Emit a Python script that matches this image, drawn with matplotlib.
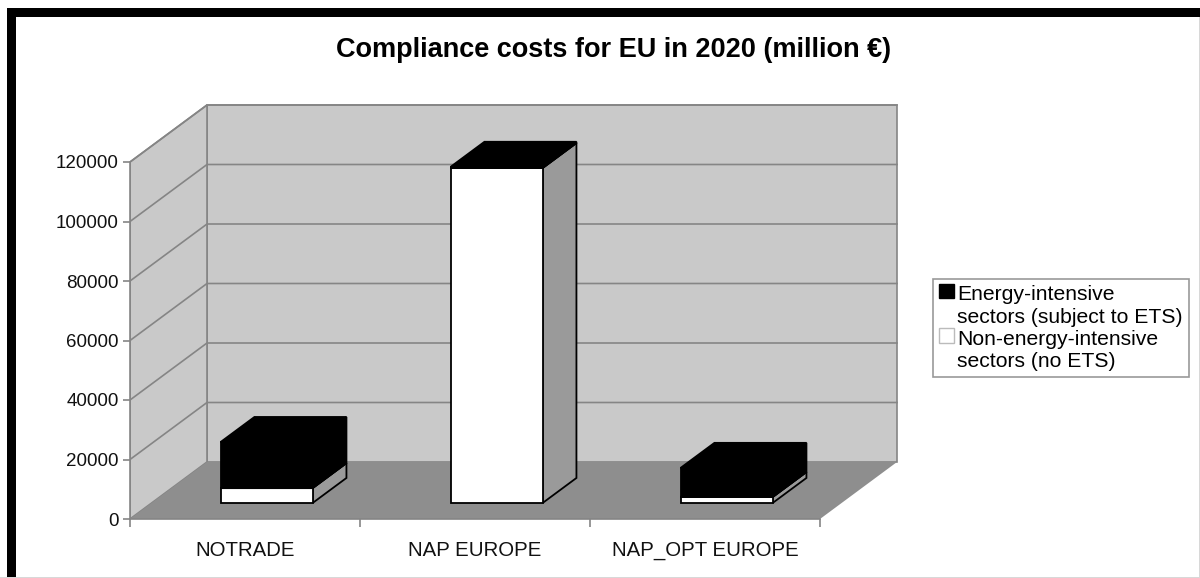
import numpy as np
import matplotlib.pyplot as plt
from matplotlib.patches import Polygon, Rectangle, Patch
from matplotlib.legend_handler import HandlerPatch

plt.rcParams['font.family'] = ['Liberation Sans', 'DejaVu Sans']

# data (million EUR)
scenarios = ['NOTRADE', 'NAP EUROPE', 'NAP_OPT EUROPE']
non_energy = [5000, 112600, 2000]      # non-energy-intensive sectors (no ETS)
energy = [15500, 400, 9800]            # energy-intensive sectors (ETS)
y_ticks = [0, 20000, 40000, 60000, 80000, 100000, 120000]
series_names = ['Energy-intensive\nsectors (subject to ETS)',
                'Non-energy-intensive\nsectors (no ETS)']

# oblique depth offset of the chart box (x in category units, y in value units)
DX = 77 / 230
DY = 57 / 357 * 120000
D0, D1 = 0.28, 0.72     # depth range occupied by the columns
BAR_W = 0.4

wall_c = '#c9c9c9'
floor_c = '#8e8e8e'
line_c = '#858585'


def proj(x, v, d):
    return (x + d * DX, v + d * DY)


def top_square(legend, orig_handle, xdescent, ydescent, width, height, fontsize):
    # legend key aligned with the first line of a two-line label
    return Rectangle((-xdescent, -ydescent + 0.72 * fontsize), width, height)


fig = plt.figure(figsize=(12, 5.78), dpi=100)
ax = fig.add_axes([130 / 1200, 1 - 519 / 578, 770 / 1200, 419 / 578])
ax.set_xlim(0, 770 / 230)
ax.set_ylim(0, 419 / 357 * 120000)
ax.patch.set_visible(False)

n = len(scenarios)
top = y_ticks[-1]

# walls and floor
ax.add_patch(Polygon([proj(0, 0, 1), proj(n, 0, 1), proj(n, top, 1), proj(0, top, 1)],
                     closed=True, facecolor=wall_c, edgecolor=line_c, lw=1.2, zorder=1))
ax.add_patch(Polygon([proj(0, 0, 0), proj(0, top, 0), proj(0, top, 1), proj(0, 0, 1)],
                     closed=True, facecolor=wall_c, edgecolor=line_c, lw=1.2, zorder=1))
ax.add_patch(Polygon([proj(0, 0, 0), proj(n, 0, 0), proj(n, 0, 1), proj(0, 0, 1)],
                     closed=True, facecolor=floor_c, edgecolor='none', zorder=2))

# gridlines on the back and side walls
for v in y_ticks[1:]:
    xs, ys = zip(proj(0, v, 0), proj(0, v, 1), proj(n, v, 1))
    ax.plot(xs, ys, color=line_c, lw=1.2, zorder=1.5)

# stacked 3D columns
for i in range(n):
    c = i + 0.5
    x0, x1 = c - BAR_W / 2, c + BAR_W / 2
    segments = [(0, non_energy[i], 'white', '#9a9a9a'),
                (non_energy[i], non_energy[i] + energy[i], 'black', 'black')]
    for k, (lo, hi, face, side) in enumerate(segments):
        z = 5 + k
        ax.add_patch(Polygon([proj(x1, lo, D0), proj(x1, lo, D1), proj(x1, hi, D1), proj(x1, hi, D0)],
                             closed=True, facecolor=side, edgecolor='black', lw=1.3, zorder=z))
        ax.add_patch(Polygon([proj(x0, lo, D0), proj(x1, lo, D0), proj(x1, hi, D0), proj(x0, hi, D0)],
                             closed=True, facecolor=face, edgecolor='black', lw=1.3, zorder=z))
        ax.add_patch(Polygon([proj(x0, hi, D0), proj(x1, hi, D0), proj(x1, hi, D1), proj(x0, hi, D1)],
                             closed=True, facecolor=face, edgecolor='black', lw=1.3, zorder=z))

# axes: value axis on the front-left edge, category axis on the front floor edge
for s in ['top', 'right']:
    ax.spines[s].set_visible(False)
ax.spines['left'].set_bounds(0, top)
ax.spines['bottom'].set_bounds(0, n)
for s in ['left', 'bottom']:
    ax.spines[s].set_color(line_c)
    ax.spines[s].set_linewidth(1.2)
    ax.spines[s].set_zorder(3)

ax.set_yticks(y_ticks)
ax.set_yticklabels([str(v) for v in y_ticks])
ax.tick_params(axis='y', length=5, width=1.2, color=line_c, labelsize=13.5, pad=3, labelcolor='#111111')
ax.set_xticks(np.arange(n + 1))
ax.set_xticklabels([''] * (n + 1))
ax.set_xticks(np.arange(n) + 0.5, minor=True)
ax.set_xticklabels(scenarios, minor=True)
ax.tick_params(axis='x', which='major', length=6, width=1.2, color=line_c)
ax.tick_params(axis='x', which='minor', length=0, labelsize=14.7, pad=16, labelcolor='#111111')

fig.text(0.511, 1 - 50 / 578, 'Compliance costs for EU in 2020 (million \u20ac)',
         ha='center', va='center', fontsize=19.5, fontweight='bold')

handles = [Patch(facecolor='black', edgecolor='black'),
           Patch(facecolor='white', edgecolor='#bbbbbb')]
hmap = {h: HandlerPatch(patch_func=top_square) for h in handles}
leg = fig.legend(handles, series_names, loc='upper left', handler_map=hmap,
                 bbox_to_anchor=(933 / 1200, 1 - 279 / 578), fontsize=15.2,
                 handlelength=0.7, handleheight=0.7, handletextpad=0.15,
                 labelspacing=0.15, borderpad=0.3, borderaxespad=0,
                 fancybox=False, framealpha=1)
leg.get_frame().set_edgecolor('#999999')
leg.get_frame().set_linewidth(1.2)
for t in leg.get_texts():
    t.set_linespacing(1.22)

# outer frame
fig.add_artist(Rectangle((7 / 1200, 0), 9 / 1200, 1 - 8 / 578, transform=fig.transFigure,
                         facecolor='black', edgecolor='none'))
fig.add_artist(Rectangle((7 / 1200, 1 - 17 / 578), 1 - 7 / 1200, 9 / 578, transform=fig.transFigure,
                         facecolor='black', edgecolor='none'))
fig.add_artist(Rectangle((0, 0), 1198.5 / 1200, 1.5 / 578, transform=fig.transFigure,
                         facecolor='#d8d8d8', edgecolor='none'))
fig.add_artist(Rectangle((1198.5 / 1200, 0), 1.5 / 1200, 1 - 17 / 578, transform=fig.transFigure,
                         facecolor='#d8d8d8', edgecolor='none'))

fig.savefig('out.png', dpi=100)
